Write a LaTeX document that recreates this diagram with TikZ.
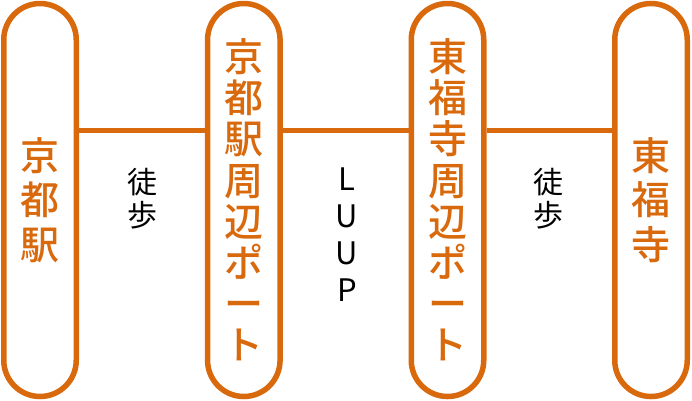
\documentclass[tikz,border=0pt]{standalone}
\usepackage{fontspec}
\newfontfamily\jp{Noto Sans CJK JP}
\newfontfamily\jpm{Noto Sans CJK JP Medium}
\definecolor{kyo}{RGB}{217,105,13}
\begin{document}
\begin{tikzpicture}[x=1pt,y=-1pt,
  stationbox/.style={draw=kyo,line width=5.5pt,fill=white,rounded corners=36.25pt,
    minimum width=72.5pt,minimum height=393pt,inner sep=0pt,align=center,
    text=kyo},
  shortname/.style={font=\jpm\fontsize{39}{44.5}\selectfont},
  longname/.style={font=\jpm\fontsize{39}{41.2}\selectfont},
  link/.style={draw=kyo,line width=5.5pt},
  modelabel/.style={inner sep=0pt,align=center,anchor=north,text=black,
    font=\jp\fontsize{30}{33}\selectfont},
  luuplabel/.style={inner sep=0pt,align=center,anchor=north,text=black,
    font=\jp\fontsize{31}{36.7}\selectfont}]
\useasboundingbox (0,0) rectangle (692,400);
\node[stationbox,shortname] (b1) at (40,200) {京\\都\\駅};
\node[stationbox,longname] (b2) at (243.8,200) {京\\都\\駅\\周\\辺\\ポ\\ー\\ト};
\node[stationbox,longname] (b3) at (447.5,200) {東\\福\\寺\\周\\辺\\ポ\\ー\\ト};
\node[stationbox,shortname] (b4) at (651,200) {東\\福\\寺};
\draw[link] ([yshift=69.5pt]b1.east) -- ([yshift=69.5pt]b2.west);
\draw[link] ([yshift=69.5pt]b2.east) -- ([yshift=69.5pt]b3.west);
\draw[link] ([yshift=69.5pt]b3.east) -- ([yshift=69.5pt]b4.west);
\node[modelabel] (l1) at (142.5,168) {徒\\歩};
\node[luuplabel] (l2) at (347,168) {L\\U\\U\\P};
\node[modelabel] (l3) at (548.5,168) {徒\\歩};
\end{tikzpicture}
\end{document}
